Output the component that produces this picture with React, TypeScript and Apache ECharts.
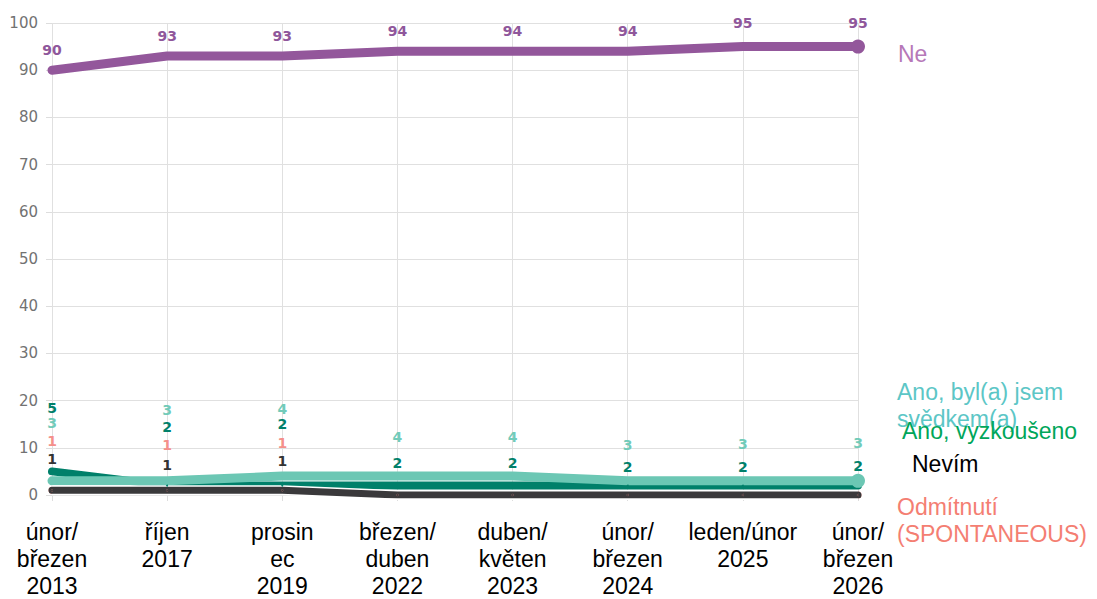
import React, { useEffect, useRef } from "react";
import * as echarts from "echarts";

const CATEGORIES = [
  "únor/\nbřezen\n2013",
  "říjen\n2017",
  "prosin\nec\n2019",
  "březen/\nduben\n2022",
  "duben/\nkvěten\n2023",
  "únor/\nbřezen\n2024",
  "leden/únor\n2025",
  "únor/\nbřezen\n2026",
];

const NE = [90, 93, 93, 94, 94, 94, 95, 95];
const ANO_SVEDKEM = [3, 3, 4, 4, 4, 3, 3, 3];
const ANO_VYZKOUSENO = [5, 2, 2, 2, 2, 2, 2, 2];
const NEVIM = [1, 1, 1, 0, 0, 0, 0, 0];
const ODMITNUTI = [1, 1, 1, 0, 0, 0, 0, 0];

const Y_TICKS = { min: 0, max: 100, interval: 10 };

// label vertical shifts (px) relative to each point (layout only)
const SHIFT_NE = [-20.5, -20.3, -20.3, -20.6, -20.6, -20.6, -23.5, -23.5];
const SHIFT_SVEDKEM = [-57.7, -70.7, -67.3, -39.3, -39.3, -35.4, -36.4, -37.4];
const SHIFT_VYZK = [-63.5, -58.8, -61.8, -22.8, -22.8, -18.8, -18.8, -19.5];
const SHIFT_ODM = [-49.2, -45.2, -47.2, 0, 0, 0, 0, 0];
const SHIFT_NEVIM = [-31.2, -25.2, -29.2, 0, 0, 0, 0, 0];

const LABEL_FONT = "DejaVu Sans";
const TEXT_FONT = "Liberation Sans";

function buildData(values: number[], shifts: number[], labelColor: string, endSize: number) {
  return values.map((v, i) => ({
    value: v,
    symbolSize: i === values.length - 1 && endSize > 0 ? endSize : 2,
    label: {
      show: v !== 0,
      position: "inside",
      offset: [0, shifts[i]],
      color: labelColor,
      fontFamily: LABEL_FONT,
      fontWeight: "bold",
      fontSize: 14,
    },
  }));
}

function lineSeries(name: string, values: number[], shifts: number[], color: string, labelColor: string, width: number, endSize: number) {
  return {
    name,
    type: "line",
    data: buildData(values, shifts, labelColor, endSize),
    symbol: "circle",
    showSymbol: true,
    itemStyle: { color },
    lineStyle: { color, width, cap: "round", join: "round" },
    emphasis: { disabled: true },
    silent: true,
  };
}

export default function App() {
  const ref = useRef<HTMLDivElement>(null);

  useEffect(() => {
    if (!ref.current) return;
    const chart = echarts.init(ref.current, undefined, { renderer: "svg" });
    const outline = {
      name: "outline",
      type: "line",
      data: NEVIM,
      symbol: "none",
      lineStyle: { color: "#ffffff", width: 10 },
      silent: true,
      emphasis: { disabled: true },
    };
    chart.setOption({
      animation: false,
      grid: { left: 52, right: 239, top: 23, bottom: 100, containLabel: false },
      xAxis: {
        type: "category",
        data: CATEGORIES,
        boundaryGap: false,
        axisLine: { show: false },
        axisTick: { show: true, length: 6, lineStyle: { color: "#dddddd" } },
        splitLine: { show: true, lineStyle: { color: "#e0e0e0", width: 1 } },
        axisLabel: {
          interval: 0,
          margin: 23,
          color: "#000000",
          fontFamily: TEXT_FONT,
          fontSize: 23,
          lineHeight: 27,
        },
      },
      yAxis: {
        type: "value",
        min: Y_TICKS.min,
        max: Y_TICKS.max,
        interval: Y_TICKS.interval,
        axisLine: { show: false },
        axisTick: { show: true, length: 6, lineStyle: { color: "#dddddd" } },
        splitLine: { show: true, lineStyle: { color: "#e0e0e0", width: 1 } },
        axisLabel: {
          margin: 14,
          color: "#727272",
          fontFamily: LABEL_FONT,
          fontSize: 15,
        },
      },
      series: [
        lineSeries("Odmítnutí (SPONTANEOUS)", ODMITNUTI, SHIFT_ODM, "#f4908a", "#f4908a", 7, 0),
        lineSeries("Ano, vyzkoušeno", ANO_VYZKOUSENO, SHIFT_VYZK, "#00806a", "#00806a", 8, 0),
        lineSeries("Ano, byl(a) jsem svědkem(a)", ANO_SVEDKEM, SHIFT_SVEDKEM, "#6cc7b4", "#72cbb9", 9, 14),
        outline,
        lineSeries("Nevím", NEVIM, SHIFT_NEVIM, "#3a393b", "#333333", 7, 0),
        lineSeries("Ne", NE, SHIFT_NE, "#93579b", "#8f579b", 9, 14),
      ],
      graphic: [
        { type: "text", x: 898, y: 42.5, style: { text: "Ne", fill: "#b678b8", font: `23px "${TEXT_FONT}"` } },
        {
          type: "text",
          x: 897,
          y: 378,
          style: { text: "Ano, byl(a) jsem\nsvědkem(a)", fill: "#5cc6c6", font: `23px "${TEXT_FONT}"`, lineHeight: 27 },
        },
        { type: "text", x: 902, y: 419.5, style: { text: "Ano, vyzkoušeno", fill: "#00a65a", font: `23px "${TEXT_FONT}"` } },
        { type: "text", x: 912, y: 452, style: { text: "Nevím", fill: "#000000", font: `23px "${TEXT_FONT}"` } },
        {
          type: "text",
          x: 897,
          y: 493,
          style: { text: "Odmítnutí\n(SPONTANEOUS)", fill: "#f47e72", font: `23px "${TEXT_FONT}"`, lineHeight: 27 },
        },
      ],
    });
    return () => chart.dispose();
  }, []);

  return (
    <div
      ref={ref}
      style={{ position: "absolute", left: 0, top: 0, width: 1097, height: 599, background: "#ffffff" }}
    />
  );
}
